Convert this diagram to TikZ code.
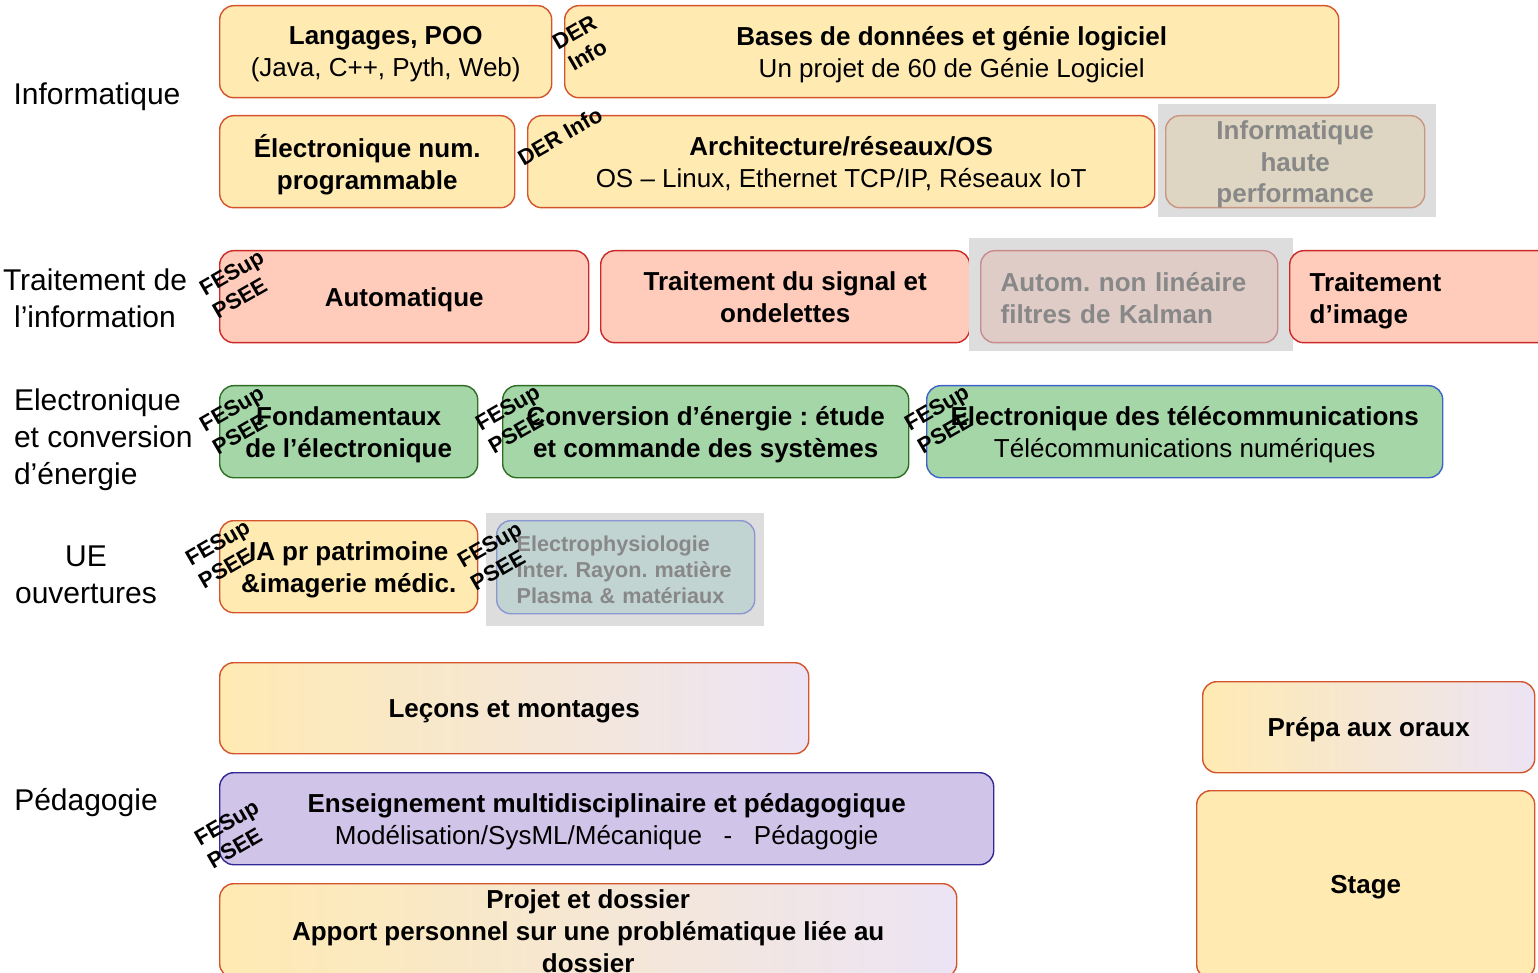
\documentclass[tikz,border=0pt]{standalone}
\usepackage{fontspec}
\setmainfont{Liberation Sans}
\usetikzlibrary{positioning}
\frenchspacing

\definecolor{yelfill}{RGB}{255,234,178}
\definecolor{yelline}{RGB}{212,84,44}
\definecolor{redfill}{RGB}{255,204,188}
\definecolor{redline}{RGB}{204,40,40}
\definecolor{grnfill}{RGB}{165,214,167}
\definecolor{grnline}{RGB}{45,110,35}
\definecolor{bluline}{RGB}{60,100,200}
\definecolor{purfill}{RGB}{208,196,232}
\definecolor{purline}{RGB}{50,40,150}
\definecolor{lavfill}{RGB}{236,228,245}
\definecolor{graybg}{RGB}{221,221,221}
\definecolor{graytxt}{RGB}{136,136,136}
\definecolor{hpcfill}{RGB}{222,214,194}
\definecolor{hpcline}{RGB}{200,150,130}
\definecolor{nlfill}{RGB}{223,204,198}
\definecolor{nlline}{RGB}{200,140,140}
\definecolor{elfill}{RGB}{194,212,210}
\definecolor{elline}{RGB}{140,150,210}

\tikzset{
  box/.style={rectangle,rounded corners=7pt,anchor=north west,inner sep=2pt,
    align=center,line width=0.7pt,font=\fontsize{13}{16}\selectfont,text depth=-2pt},
  yelbox/.style={box,draw=yelline,fill=yelfill},
  gradbox/.style={box,draw=yelline,left color=yelfill,right color=lavfill},
  redbox/.style={box,draw=redline,fill=redfill},
  grnbox/.style={box,draw=grnline,fill=grnfill},
  leftbox/.style={inner xsep=10pt,align=left,text depth=,
    execute at begin node={\rule{0pt}{13.5pt}},
    execute at end node={\rule[-3pt]{0pt}{3pt}}},
  greybox/.style={box,text=graytxt},
  rowlabel/.style={font=\fontsize{15}{18.5}\selectfont,align=center},
  tag/.style={font=\bfseries\fontsize{11}{13}\selectfont,rotate=30,align=center,inner sep=0pt}
}

\begin{document}
\begin{tikzpicture}[x=0.5pt,y=-0.5pt]
\useasboundingbox (0,0) rectangle (1538,973);
% Row labels
\node[rowlabel] (linfo) at (97,97) {Informatique};
\node[rowlabel] (ltrait) at (95,298) {Traitement de\\l’information};
\node[rowlabel,align=left,anchor=west] (lelec) at (7,440) {Electronique\\et conversion\\d’énergie};
\node[rowlabel] (lue) at (86,575) {UE\\ouvertures};
\node[rowlabel] (lpeda) at (86,803) {Pédagogie};
% Informatique
\node[yelbox,minimum width=166pt,minimum height=46pt] (langages) at (219,5) {\textbf{Langages, POO}\\(Java, C++, Pyth, Web)};
\node[yelbox,minimum width=387pt,minimum height=46pt] (bases) at (564,5) {\textbf{Bases de données et génie logiciel}\\Un projet de 60 de Génie Logiciel};
\node[yelbox,minimum width=147.5pt,minimum height=46pt] (elecnum) at (219,115) {\textbf{Électronique num.}\\\textbf{programmable}};
\node[yelbox,minimum width=313.5pt,minimum height=46pt] (archi) at (527,115) {\textbf{Architecture/réseaux/OS}\\OS – Linux, Ethernet TCP/IP, Réseaux IoT};
\fill[graybg] (1158,104) rectangle (1436,217);
\node[greybox,draw=hpcline,fill=hpcfill,minimum width=129.5pt,minimum height=46pt,inner ysep=0pt,text depth=-1pt,
  font=\bfseries\fontsize{13}{15.7}\selectfont] (hpc) at (1165,115) {Informatique\\haute\\performance};
\node[tag] (derbases) at (581,44) {DER\\Info};
\node[tag] (derarchi) at (560,136) {DER Info};
% Traitement de l'information
\node[redbox,minimum width=184.5pt,minimum height=46pt,font=\bfseries\fontsize{13}{16}\selectfont] (automatique) at (219,250) {Automatique};
\node[redbox,minimum width=184.5pt,minimum height=46pt,font=\bfseries\fontsize{13}{16}\selectfont] (signal) at (600,250) {Traitement du signal et\\ondelettes};
\fill[graybg] (969,238) rectangle (1293,351);
\node[greybox,leftbox,draw=nlline,fill=nlfill,text width=128.5pt,minimum height=46pt,font=\bfseries\fontsize{13}{16}\selectfont] (nonlin) at (980,250) {Autom. non linéaire\\filtres de Kalman};
\node[redbox,leftbox,text width=115.5pt,minimum height=46pt,font=\bfseries\fontsize{13}{16}\selectfont] (image) at (1289,250) {Traitement\\d’image};
\node[tag,align=left] (fesauto) at (238,284) {FESup\\PSEE};
% Electronique et conversion d'energie
\node[grnbox,minimum width=129pt,minimum height=46pt,font=\bfseries\fontsize{13}{16}\selectfont] (fondam) at (219,385) {Fondamentaux\\de l’électronique};
\node[grnbox,minimum width=203pt,minimum height=46pt,font=\bfseries\fontsize{13}{16}\selectfont] (conversion) at (502,385) {Conversion d’énergie : étude\\et commande des systèmes};
\node[box,draw=bluline,fill=grnfill,minimum width=258pt,minimum height=46pt] (telecom) at (926,385) {\textbf{Electronique des télécommunications}\\Télécommunications numériques};
\node[tag,align=left] (fesfondam) at (238,420) {FESup\\PSEE};
\node[tag,align=left] (fesconv) at (514,419) {FESup\\PSEE};
\node[tag,align=left] (festele) at (943,419) {FESup\\PSEE};
% UE ouvertures
\node[yelbox,minimum width=129pt,minimum height=46pt,font=\bfseries\fontsize{13}{16}\selectfont] (ia) at (219,520) {IA pr patrimoine\\\&imagerie médic.};
\fill[graybg] (486,513) rectangle (764,626);
\node[greybox,leftbox,draw=elline,fill=elfill,text width=109pt,minimum height=46pt,execute at begin node={},
  font=\bfseries\fontsize{10.8}{13}\selectfont] (electro) at (496,520) {Electrophysiologie\\Inter. Rayon. matière\\Plasma \& matériaux};
\node[tag,align=left] (fesia) at (224,554) {FESup\\PSEE};
\node[tag,align=left] (feselectro) at (496,556) {FESup\\PSEE};
% Pedagogie
\node[gradbox,minimum width=294.5pt,minimum height=45.5pt,font=\bfseries\fontsize{13}{16}\selectfont] (lecons) at (219,662) {Leçons et montages};
\node[gradbox,minimum width=166pt,minimum height=45.5pt,font=\bfseries\fontsize{13}{16}\selectfont] (prepa) at (1202,681) {Prépa aux oraux};
\node[box,draw=purline,fill=purfill,minimum width=387pt,minimum height=46pt] (enseign) at (219,772) {\textbf{Enseignement multidisciplinaire et pédagogique}\\Modélisation/SysML/Mécanique \ \ - \ \ Pédagogie};
\node[gradbox,minimum width=368.5pt,minimum height=47pt,inner ysep=0pt,text depth=-1pt,
  font=\bfseries\fontsize{13}{16}\selectfont] (projet) at (219,883) {Projet et dossier\\Apport personnel sur une problématique liée au\\dossier};
\node[yelbox,minimum width=169pt,minimum height=94pt,font=\bfseries\fontsize{13}{16}\selectfont] (stage) at (1196,790) {Stage};
\node[tag,align=left] (fesenseign) at (233,834) {FESup\\PSEE};
\end{tikzpicture}
\end{document}
